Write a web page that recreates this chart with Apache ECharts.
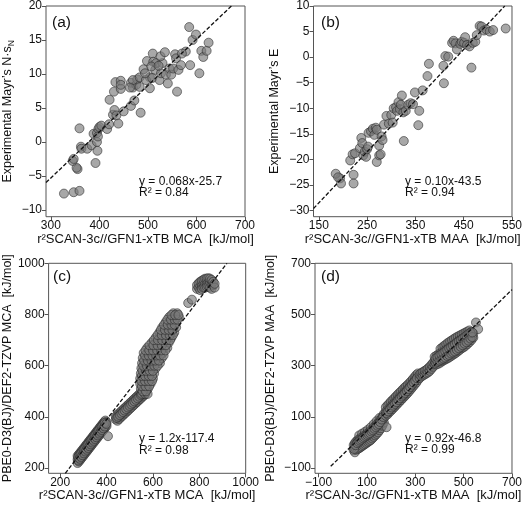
<!DOCTYPE html>
<html><head><meta charset="utf-8">
<script src="https://cdn.jsdelivr.net/npm/echarts@6/dist/echarts.min.js"></script>
<style>html,body{margin:0;padding:0;background:#fff}#c{width:525px;height:508px}</style>
</head><body><div id="c"></div>
<script>
const FONT = "'Liberation Sans', Arial, Helvetica, sans-serif";

// ---------- data ----------
const panelA = [[327,-7.6],[347,-7.4],[359,-7.2],[355,-4.0],[353,-3.8],[345,-2.8],[347,-2.5],[359,2.0],[362,-0.7],[363,-1.0],[375,-1.0],[384,-0.5],[392,-3.1],[396,-1.3],[395,0.0],[388,1.2],[395,1.3],[398,1.9],[400,2.2],[397,0.8],[404,2.4],[416,1.9],[420,2.6],[428,4.0],[431,4.7],[435,3.9],[439,2.7],[450,4.5],[421,6.2],[430,7.4],[433,8.8],[444,9.0],[444,7.8],[444,8.4],[465,5.3],[472,6.1],[485,4.3],[465,8.7],[469,8.0],[476,8.4],[478,9.2],[469,9.1],[483,9.5],[491,10.7],[498,11.9],[504,7.9],[504,9.5],[496,9.1],[510,13.0],[511,11.8],[515,10.6],[517,11.6],[509,9.4],[524,9.1],[527,10.1],[530,11.6],[526,12.6],[535,13.2],[537,9.9],[544,10.8],[548,9.9],[552,10.8],[556,12.9],[558,12.3],[560,7.4],[563,10.6],[568,11.3],[578,13.3],[570,13.0],[585,16.9],[587,11.3],[592,15.0],[599,15.8],[606,10.1],[610,13.4],[614,12.5],[621,13.4],[625,14.6],[541,8.6],[483,8.1],[494,10.1],[463,8.0],[507,11.1],[522,11.2]];

const panelB = [[194,-23.7],[196,-24.7],[185,-22.8],[190,-23.5],[222,-23.0],[222,-24.7],[215,-20.2],[220,-19.0],[225,-18.8],[235,-17.8],[238,-15.8],[240,-16.8],[242,-19.2],[245,-18.5],[248,-19.5],[250,-18.0],[252,-17.5],[253,-14.8],[258,-14.5],[262,-14.0],[265,-15.2],[268,-13.8],[270,-14.2],[270,-20.5],[275,-19.2],[275,-17.3],[280,-15.5],[282,-16.2],[278,-19.0],[285,-13.2],[290,-11.5],[295,-13.0],[300,-11.3],[303,-12.8],[305,-10.0],[310,-9.8],[312,-10.5],[315,-8.8],[318,-10.2],[320,-9.3],[322,-7.5],[326,-16.4],[325,-10.8],[330,-10.5],[335,-9.3],[340,-9.0],[345,-9.2],[349,-6.9],[356,-13.3],[358,-10.5],[365,-6.5],[375,-3.7],[378,-1.3],[408,-1.7],[409,-5.1],[412,0.2],[418,0.1],[426,2.8],[429,3.2],[433,2.7],[436,1.5],[443,2.6],[446,3.0],[451,2.8],[453,3.9],[457,2.4],[462,2.1],[466,-2.05],[469,2.8],[474,3.0],[477,4.3],[483,6.1],[487,6.0],[492,5.2],[497,5.4],[504,5.0],[511,5.3],[537,5.6]];

const panelC = [
[275,220],[275,234],[275,248],[281,226],[281,240],[281,254],[287,233],[287,247],[287,261],[293,240],[293,254],[293,268],[299,247],[299,261],[299,275],[305,254],[305,268],[305,282],[311,261],[311,275],[311,289],[317,268],[317,282],[317,296],[323,275],[323,289],[323,303],[329,282],[329,296],[329,310],[335,289],[335,303],[335,317],[341,296],[341,310],[341,324],[347,303],[347,317],[347,331],[353,310],[353,324],[353,338],[359,317],[359,331],[359,345],[365,324],[365,338],[365,352],[371,331],[371,345],[371,359],[377,338],[377,352],[377,366],[383,345],[383,359],[383,373],[389,352],[389,366],[389,380],[395,360],[395,374],[395,386],[400,365],[400,380],
[278,230],[278,244],[284,237],[284,251],[290,244],[290,258],[296,251],[296,265],[302,258],[302,272],[308,265],[308,279],[314,272],[314,286],[320,279],[320,293],[326,286],[326,300],[332,293],[332,307],[338,300],[338,314],[344,307],[344,321],[350,314],[350,328],[356,321],[356,335],[362,328],[362,342],[368,335],[368,349],[374,342],[374,356],[380,349],[380,363],[386,356],[386,370],[392,363],[392,377],
[406,325],[399,373],
[440,390],[440,402],[447,395],[447,408],[447,385],[454,401],[454,414],[454,392],[461,407],[461,420],[461,398],[468,413],[468,426],[468,404],[475,419],[475,432],[475,410],[482,425],[482,438],[482,416],[489,431],[489,444],[489,422],[496,437],[496,450],[496,428],[503,443],[503,456],[503,434],[510,449],[510,462],[510,440],[517,455],[517,468],[517,446],[524,461],[524,474],[524,452],[531,467],[531,480],[531,458],[538,473],[538,486],[538,464],[545,479],[545,492],[545,470],[552,485],[552,498],[552,476],[559,491],[559,504],[559,482],[566,497],[566,510],[566,488],[573,503],[573,515],
[443,396],[450,401],[457,407],[464,413],[471,419],[478,425],[485,431],[492,437],[499,443],[506,449],[513,455],[520,461],[527,467],[534,473],[541,479],[548,485],[555,491],[562,497],[569,503],
[551,490],[565,490],[577,490],[548,510],[562,510],[578,510],[545,530],[560,530],[575,530],[590,530],[545,550],[558,550],[572,550],[588,550],[600,550],[548,570],[562,570],[576,570],[592,570],[605,570],[550,590],[565,590],[580,590],[596,590],[612,590],[553,610],[568,610],[584,610],[600,610],[618,610],[630,610],[556,630],[572,630],[588,630],[604,630],[622,630],[638,630],[560,650],[576,650],[592,650],[608,650],[626,650],[644,650],[575,670],[592,670],[610,670],[628,670],[648,670],[662,670],[595,690],[612,690],[630,690],[650,690],[668,690],[612,710],[630,710],[648,710],[666,710],[680,710],[628,730],[645,730],[662,730],[680,730],[692,730],[640,750],[656,750],[672,750],[690,750],[700,750],[655,770],[670,770],[686,770],[700,770],[670,790],[686,790],[700,790],[712,790],[688,805],[705,805],
[556,500],[570,500],[552,520],[568,520],[584,520],[550,540],[566,540],[582,540],[596,540],[552,560],[566,560],[582,560],[596,560],[555,580],[570,580],[586,580],[600,580],[558,600],[574,600],[590,600],[606,600],[620,600],[562,620],[578,620],[594,620],[610,620],[626,620],[566,640],[582,640],[598,640],[614,640],[630,640],[646,640],[568,660],[584,660],[600,660],[618,660],[636,660],[654,660],[585,680],[602,680],[620,680],[638,680],[656,680],[604,700],[622,700],[640,700],[658,700],[674,700],[620,720],[638,720],[656,720],[672,720],[686,720],[634,740],[652,740],[668,740],[684,740],[648,760],[664,760],[680,760],[694,760],[662,780],[678,780],[694,780],[706,780],[680,798],[696,798],[710,798],
[752,845],[768,858],
[790,900],[790,915],[797,905],[797,922],[804,910],[804,928],[804,895],[811,915],[811,932],[811,900],[818,918],[818,936],[818,905],[825,920],[825,940],[825,905],[832,922],[832,940],[832,908],[839,925],[839,942],[839,910],[846,925],[846,940],[846,905],[853,920],[853,935],[853,900],[860,915],[860,928],[866,905],[866,920]];

const panelD = [
[45,-30],[45,-10],[50,-38],[50,-20],[50,-2],[56,-28],[56,-12],[56,5],[62,-25],[62,-8],[62,10],[68,-22],[68,-5],[68,14],[68,28],[74,-18],[74,0],[74,18],[80,-14],[80,4],[80,22],[80,35],[86,-10],[86,8],[86,26],[92,-6],[92,12],[92,30],[92,42],[98,-2],[98,16],[98,34],[104,2],[104,20],[104,38],[104,50],[110,6],[110,24],[110,42],[116,10],[116,28],[116,46],[116,60],[122,16],[122,34],[122,52],[128,22],[128,40],[128,58],[128,72],[134,28],[134,46],[134,64],[140,34],[140,52],[140,70],[140,84],[146,40],[146,58],[146,76],[152,48],[152,66],[152,84],[152,96],[158,56],[158,74],[158,92],[164,66],[164,84],[164,102],[170,78],[170,96],[170,112],[181,60],
[47,-25],[53,-10],[59,-2],[65,3],[71,8],[77,12],[83,17],[89,21],[95,25],[101,29],[107,33],[113,37],[119,43],[125,48],[131,54],[137,60],[143,66],[149,72],[155,80],[161,90],[167,100],
[178,105],[178,122],[178,138],[185,110],[185,128],[185,145],[192,118],[192,135],[192,152],[199,124],[199,142],[199,160],[206,131],[206,149],[206,166],[213,138],[213,156],[213,173],[220,145],[220,163],[220,180],[227,152],[227,170],[227,187],[234,159],[234,177],[234,194],[241,166],[241,184],[241,200],[248,173],[248,190],[248,207],[255,180],[255,197],[255,214],[262,187],[262,204],[262,220],[269,194],[269,210],[269,226],[276,202],[276,218],[276,233],[283,210],[283,226],[283,240],[290,218],[290,234],[290,248],[297,226],[297,242],[297,256],[304,234],[304,250],[304,264],[311,244],[311,258],[311,270],
[181,115],[188,122],[195,130],[202,137],[209,144],[216,151],[223,158],[230,166],[237,173],[244,180],[251,187],[258,194],[265,201],[272,209],[279,217],[286,226],[293,234],[300,242],[307,251],
[318,252],[318,266],[325,258],[325,272],[332,262],[332,276],[339,266],[339,280],[346,270],[346,284],[353,274],[353,290],[360,280],[360,296],[367,288],[367,304],[374,296],[374,312],
[380,305],[380,320],[380,335],[388,305],[388,322],[388,340],[396,308],[396,326],[396,345],[404,312],[404,332],[404,350],[404,366],[412,318],[412,336],[412,356],[412,372],[420,322],[420,340],[420,360],[420,378],[428,326],[428,345],[428,365],[428,384],[436,330],[436,350],[436,370],[436,390],[444,335],[444,355],[444,375],[444,395],[452,340],[452,360],[452,380],[452,400],[460,345],[460,365],[460,385],[460,405],[468,350],[468,370],[468,390],[468,410],[476,356],[476,376],[476,396],[476,414],[484,362],[484,382],[484,402],[484,418],[492,368],[492,388],[492,406],[492,422],[500,372],[500,392],[500,410],[500,426],[508,378],[508,398],[508,414],[508,430],[516,385],[516,404],[516,420],[516,434],[524,392],[524,410],[524,426],[524,438],[532,400],[532,416],[532,432],[540,410],[540,426],[551,469],[560,443],
[384,312],[384,328],[392,316],[392,333],[400,320],[400,340],[408,324],[408,345],[416,328],[416,350],[424,332],[424,356],[432,338],[432,362],[440,342],[440,368],[448,348],[448,372],[456,352],[456,378],[464,356],[464,384],[472,362],[472,390],[480,368],[480,396],[488,374],[488,400],[496,380],[496,406],[504,386],[504,412],[512,392],[512,418],[520,398],[520,424],[528,406],[528,428],[536,412],[536,430]];

// fit lines (endpoints)
const lineA = [[290,-5.98],[672,20]];
const lineB = [[139,-29.6],[535,10]];
const lineC = [[222,180],[919,1000]];
const lineD = [[-50,-92.8],[700,597.2]];

// tick values
const xTicksA = [300,400,500,600,700];
const yTicksA = [-10,-5,0,5,10,15,20];
const xTicksB = [150,250,350,450,550];
const yTicksB = [-30,-25,-20,-15,-10,-5,0,5,10];
const xTicksC = [200,400,600,800,1000];
const yTicksC = [200,400,600,800,1000];
const xTicksD = [-100,100,300,500,700];
const yTicksD = [-100,100,300,500,700];

const panelLabels = ['(a)','(b)','(c)','(d)'];
const eqLines = ['y = 0.068x-25.7','y = 0.10x-43.5','y = 1.2x-117.4','y = 0.92x-46.8'];
const r2Lines = ['R\u00b2 = 0.84','R\u00b2 = 0.94','R\u00b2 = 0.98','R\u00b2 = 0.99'];
const xTitles = ['r\u00b2SCAN-3c//GFN1-xTB MCA  [kJ/mol]','r\u00b2SCAN-3c//GFN1-xTB MAA  [kJ/mol]','r\u00b2SCAN-3c//GFN1-xTB MCA  [kJ/mol]','r\u00b2SCAN-3c//GFN1-xTB MAA  [kJ/mol]'];
const yTitles = ["{t|Experimental Mayr\u2019s N\u00b7s}{s|N}","Experimental Mayr\u2019s E","PBE0-D3(BJ)/DEF2-TZVP MCA  [kJ/mol]","PBE0-D3(BJ)/DEF2-TZVP MAA  [kJ/mol]"];

// ---------- layout ----------
const grids = [
  {left:46, top:4.5, width:199, height:212.2},
  {left:313.5, top:4.5, width:200, height:212.2},
  {left:45.7, top:263.3, width:200, height:210},
  {left:315, top:263.3, width:198.5, height:210}
];
const xRanges = [[290,700],[139,550],[150,1000],[-115,700]];
const yRanges = [[-11,20],[-31.2,10],[180,1000],[-120,700]];
const xTicks = [xTicksA,xTicksB,xTicksC,xTicksD];
const yTicks = [yTicksA,yTicksB,yTicksC,yTicksD];
const yNameGaps = [30,32,31,38];
const points = [panelA,panelB,panelC,panelD];
const lines = [lineA,lineB,lineC,lineD];

const AXC = '#555';
const TXT = '#111';

function mkX(i){
  return {type:'value', gridIndex:i, min:xRanges[i][0], max:xRanges[i][1],
    axisLine:{show:false, onZero:false}, splitLine:{show:false},
    axisTick:{show:true, inside:false, length:4, customValues:xTicks[i], lineStyle:{color:AXC}},
    axisLabel:{customValues:xTicks[i], margin:3, color:TXT, fontFamily:FONT, fontSize:12,
      formatter:v=>String(v).replace('-','\u2212')},
    name:xTitles[i], nameLocation:'middle', nameGap:14,
    nameTextStyle:{color:TXT, fontFamily:FONT, fontSize:13}};
}
function mkY(i){
  return {type:'value', gridIndex:i, min:yRanges[i][0], max:yRanges[i][1],
    axisLine:{show:false, onZero:false}, splitLine:{show:false},
    axisTick:{show:true, inside:false, length:4, customValues:yTicks[i], lineStyle:{color:AXC}},
    axisLabel:{customValues:yTicks[i], margin:4, color:TXT, fontFamily:FONT, fontSize:12,
      formatter:v=>String(v).replace('-','\u2212')},
    name:yTitles[i], nameLocation:'middle', nameGap:yNameGaps[i], nameRotate:90,
    nameTextStyle:{color:TXT, fontFamily:FONT, fontSize:12.5,
      rich:{t:{fontFamily:FONT, fontSize:12.5, color:TXT, lineHeight:16},
            s:{fontFamily:FONT, fontSize:8.5, color:TXT, lineHeight:11, verticalAlign:'bottom'}}}};
}

const series = [];
for (let i=0;i<4;i++){
  series.push({type:'scatter', xAxisIndex:i, yAxisIndex:i, data:points[i], symbolSize:9,
    itemStyle:{color:'rgba(122,122,122,0.82)', borderColor:'rgba(40,40,40,0.9)', borderWidth:0.8},
    silent:true, z:2});
  series.push({type:'line', xAxisIndex:i, yAxisIndex:i, data:lines[i], symbol:'none',
    lineStyle:{color:'#111', width:1.3, type:[4,2]}, silent:true, z:3});
}

const labelPos = [[52,23],[321,23],[53,277],[321,277]];
const eqPos = [[139,181.5,192.5],[405,181.5,192.5],[139,439,450.5],[405,438.5,450]];
const graphic = [];
for (let i=0;i<4;i++){
  graphic.push({type:'text', x:labelPos[i][0], y:labelPos[i][1],
    style:{text:panelLabels[i], font:'15.5px '+FONT, fill:TXT, verticalAlign:'middle', align:'left'}});
  graphic.push({type:'text', x:eqPos[i][0], y:eqPos[i][1],
    style:{text:eqLines[i], font:'12px '+FONT, fill:TXT, verticalAlign:'middle', align:'left'}});
  graphic.push({type:'text', x:eqPos[i][0], y:eqPos[i][2],
    style:{text:r2Lines[i], font:'12px '+FONT, fill:TXT, verticalAlign:'middle', align:'left'}});
}

const chart = echarts.init(document.getElementById('c'), null, {renderer:'canvas'});
chart.setOption({
  animation:false,
  backgroundColor:'#fff',
  grid: grids.map(g=>Object.assign({show:true, borderColor:AXC, borderWidth:1, backgroundColor:'transparent', containLabel:false}, g)),
  xAxis:[0,1,2,3].map(mkX),
  yAxis:[0,1,2,3].map(mkY),
  series:series,
  graphic:graphic
});
</script>
</body></html>
